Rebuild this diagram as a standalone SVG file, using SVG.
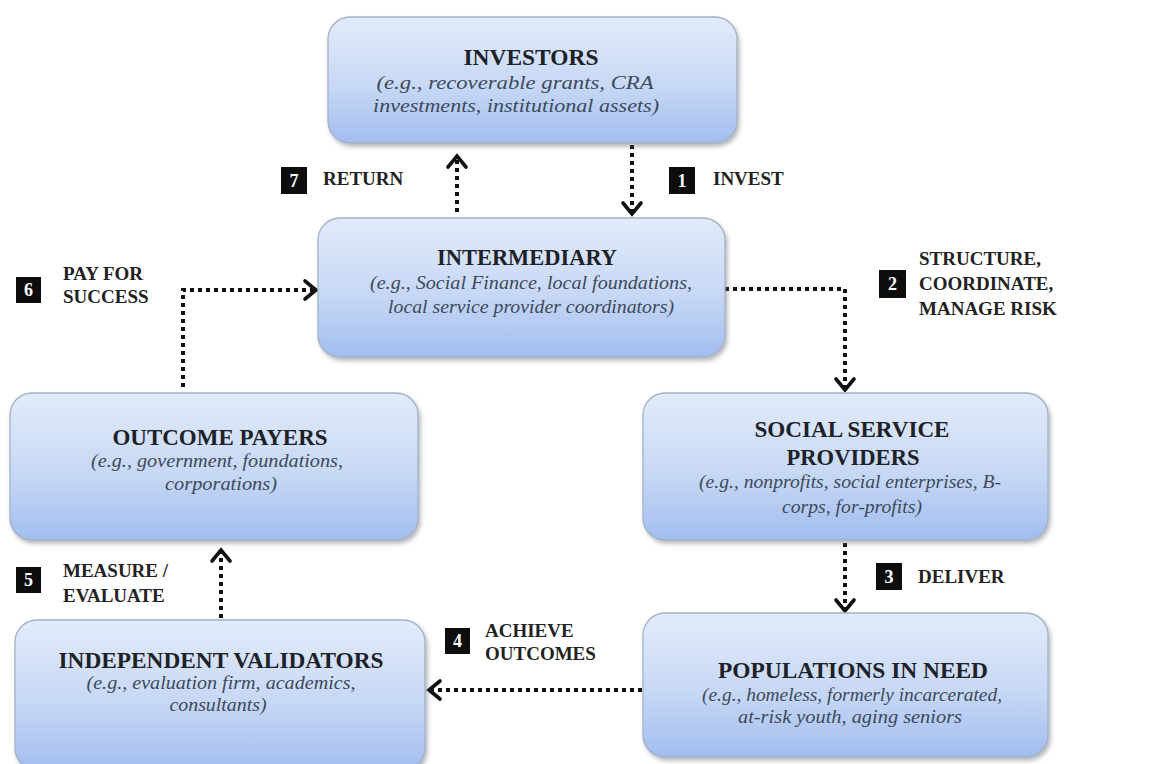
<svg xmlns="http://www.w3.org/2000/svg" width="1166" height="764" viewBox="0 0 1166 764">
<defs>
  <linearGradient id="boxg" x1="0" y1="0" x2="0" y2="1">
    <stop offset="0" stop-color="#e2ebfa"/>
    <stop offset="0.55" stop-color="#c7d8f5"/>
    <stop offset="1" stop-color="#a2bdef"/>
  </linearGradient>
  <filter id="sh" x="-5%" y="-5%" width="112%" height="115%">
    <feDropShadow dx="2" dy="3" stdDeviation="2" flood-color="#5a6270" flood-opacity="0.45"/>
  </filter>
  <marker id="chev" markerUnits="userSpaceOnUse" markerWidth="30" markerHeight="30" viewBox="-15 -15 30 30" refX="0" refY="0" orient="auto">
    <path d="M-11,-9 L0,0 L-11,9" fill="none" stroke="#111" stroke-width="3.6" stroke-linecap="round"/>
  </marker>
  <style>
    .box{fill:url(#boxg);stroke:#a3b2c6;stroke-width:1.3;filter:url(#sh)}
    .t{font-family:"Liberation Serif","Times New Roman",serif;font-weight:bold;font-size:23px;fill:#1d2128;text-anchor:middle}
    .s{font-family:"Liberation Serif","Times New Roman",serif;font-style:italic;font-size:18px;fill:#3d4a5c;text-anchor:middle}
    .lbl{font-family:"Liberation Serif","Times New Roman",serif;font-weight:bold;font-size:19px;fill:#222}
    .num{font-family:"Liberation Serif","Times New Roman",serif;font-weight:bold;font-size:18px;fill:#fff;text-anchor:middle}
    .sq{fill:#0d0d0d}
    .dot{fill:none;stroke:#111;stroke-width:4;stroke-dasharray:4 4;marker-end:url(#chev)}
  </style>
</defs>
<rect width="1166" height="764" fill="#fff"/>

<g id="connectors">
  <path class="dot" d="M457,212 V156"/>
  <path class="dot" d="M632,145 V214"/>
  <path class="dot" d="M183,387 V290 H316"/>
  <path class="dot" d="M725,289 H845 V390"/>
  <path class="dot" d="M845,543 V611"/>
  <path class="dot" d="M642,690 H429"/>
  <path class="dot" d="M221,618 V550"/>
</g>

<g id="investors">
  <rect class="box" x="328" y="17" width="409" height="126" rx="22"/>
  <text class="t" x="531" y="65" textLength="135" lengthAdjust="spacingAndGlyphs">INVESTORS</text>
  <text class="s" x="515" y="89" textLength="277" lengthAdjust="spacingAndGlyphs">(e.g., recoverable grants, CRA</text>
  <text class="s" x="516" y="112" textLength="286" lengthAdjust="spacingAndGlyphs">investments, institutional assets)</text>
</g>

<g id="intermediary">
  <rect class="box" x="318" y="218" width="407" height="139" rx="22"/>
  <text class="t" x="527" y="265" textLength="180" lengthAdjust="spacingAndGlyphs">INTERMEDIARY</text>
  <text class="s" x="531" y="289" textLength="322" lengthAdjust="spacingAndGlyphs">(e.g., Social Finance, local foundations,</text>
  <text class="s" x="531" y="313" textLength="286" lengthAdjust="spacingAndGlyphs">local service provider coordinators)</text>
</g>

<g id="outcome-payers">
  <rect class="box" x="10" y="393" width="408" height="147" rx="22"/>
  <text class="t" x="220" y="445" textLength="215" lengthAdjust="spacingAndGlyphs">OUTCOME PAYERS</text>
  <text class="s" x="217" y="467" textLength="252" lengthAdjust="spacingAndGlyphs">(e.g., government, foundations,</text>
  <text class="s" x="221" y="490" textLength="112" lengthAdjust="spacingAndGlyphs">corporations)</text>
</g>

<g id="social-service-providers">
  <rect class="box" x="643" y="393" width="405" height="147" rx="22"/>
  <text class="t" x="852" y="437" textLength="195" lengthAdjust="spacingAndGlyphs">SOCIAL SERVICE</text>
  <text class="t" x="853" y="465" textLength="133" lengthAdjust="spacingAndGlyphs">PROVIDERS</text>
  <text class="s" x="850" y="488" textLength="302" lengthAdjust="spacingAndGlyphs">(e.g., nonprofits, social enterprises, B-</text>
  <text class="s" x="852" y="513" textLength="140" lengthAdjust="spacingAndGlyphs">corps, for-profits)</text>
</g>

<g id="independent-validators">
  <rect class="box" x="15" y="620" width="410" height="150" rx="22"/>
  <text class="t" x="221" y="668" textLength="325" lengthAdjust="spacingAndGlyphs">INDEPENDENT VALIDATORS</text>
  <text class="s" x="221" y="689" textLength="269" lengthAdjust="spacingAndGlyphs">(e.g., evaluation firm, academics,</text>
  <text class="s" x="218" y="711" textLength="97" lengthAdjust="spacingAndGlyphs">consultants)</text>
</g>

<g id="populations-in-need">
  <rect class="box" x="643" y="613" width="405" height="144" rx="22"/>
  <text class="t" x="853" y="678" textLength="270" lengthAdjust="spacingAndGlyphs">POPULATIONS IN NEED</text>
  <text class="s" x="852" y="701" textLength="300" lengthAdjust="spacingAndGlyphs">(e.g., homeless, formerly incarcerated,</text>
  <text class="s" x="850" y="723" textLength="224" lengthAdjust="spacingAndGlyphs">at-risk youth, aging seniors</text>
</g>

<g id="step-labels">
  <rect class="sq" x="281" y="167" width="26" height="27"/>
  <text class="num" x="294" y="187">7</text>
  <text class="lbl" x="323" y="185">RETURN</text>

  <rect class="sq" x="669" y="167" width="26" height="27"/>
  <text class="num" x="682" y="187">1</text>
  <text class="lbl" x="713" y="185">INVEST</text>

  <rect class="sq" x="16" y="277" width="25" height="26"/>
  <text class="num" x="28.5" y="296">6</text>
  <text class="lbl" x="63" y="280">PAY FOR</text>
  <text class="lbl" x="63" y="303">SUCCESS</text>

  <rect class="sq" x="879" y="270" width="27" height="28"/>
  <text class="num" x="892.5" y="290">2</text>
  <text class="lbl" x="919" y="265">STRUCTURE,</text>
  <text class="lbl" x="919" y="290">COORDINATE,</text>
  <text class="lbl" x="919" y="315">MANAGE RISK</text>

  <rect class="sq" x="876" y="563" width="26" height="27"/>
  <text class="num" x="889" y="583">3</text>
  <text class="lbl" x="918" y="583">DELIVER</text>

  <rect class="sq" x="445" y="628" width="25" height="26"/>
  <text class="num" x="457.5" y="647">4</text>
  <text class="lbl" x="485" y="637">ACHIEVE</text>
  <text class="lbl" x="485" y="660">OUTCOMES</text>

  <rect class="sq" x="16" y="567" width="25" height="26"/>
  <text class="num" x="28.5" y="586">5</text>
  <text class="lbl" x="63" y="577">MEASURE /</text>
  <text class="lbl" x="63" y="602">EVALUATE</text>
</g>
</svg>
